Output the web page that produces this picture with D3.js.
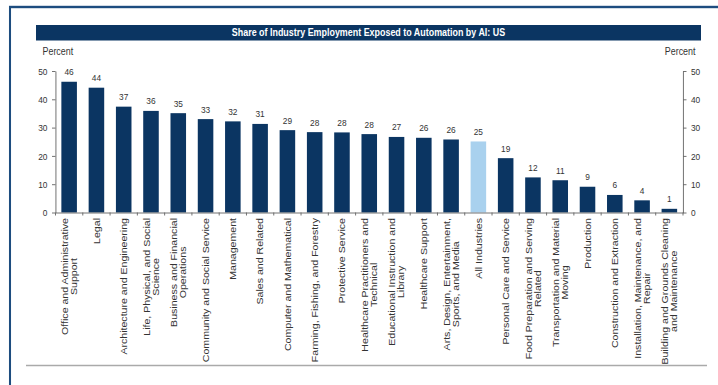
<!DOCTYPE html>
<html>
<head>
<meta charset="utf-8">
<script src="https://d3js.org/d3.v7.min.js"></script>
<style>
  html, body { margin: 0; padding: 0; background: #fff; overflow: hidden; }
  svg { display: block; font-family: "Liberation Sans", Arial, sans-serif; }
</style>
</head>
<body>
<div id="chart"></div>
<script>
const title = "Share of Industry Employment Exposed to Automation by AI: US";
const unitLabel = "Percent";

const categories = [
  "Office and Administrative\nSupport",
  "Legal",
  "Architecture and Engineering",
  "Life, Physical, and Social\nScience",
  "Business and Financial\nOperations",
  "Community and Social Service",
  "Management",
  "Sales and Related",
  "Computer and Mathematical",
  "Farming, Fishing, and Forestry",
  "Protective Service",
  "Healthcare Practitioners and\nTechnical",
  "Educational Instruction and\nLibrary",
  "Healthcare Support",
  "Arts, Design, Entertainment,\nSports, and Media",
  "All Industries",
  "Personal Care and Service",
  "Food Preparation and Serving\nRelated",
  "Transportation and Material\nMoving",
  "Production",
  "Construction and Extraction",
  "Installation, Maintenance, and\nRepair",
  "Building and Grounds Cleaning\nand Maintenance"
];

const shares = [46.2, 44.1, 37.4, 35.9, 35.1, 33.0, 32.2, 31.3, 29.1, 28.4, 28.3, 27.7,
  26.7, 26.4, 25.8, 25.1, 19.2, 12.4, 11.4, 9.1, 6.2, 4.3, 1.3];

const highlighted = ["All Industries"];
const yTicks = [0, 10, 20, 30, 40, 50];

// the source picture is squeezed sideways, so draw wide and squash with the viewBox
const K = 0.85;
const sx = v => v / K;

const width = 718, height = 385;
const navy = "#0b3562", lightBlue = "#a9d1ee", ink = "#333";

const svg = d3.select("#chart")
  .append("svg")
  .attr("width", width)
  .attr("height", height)
  .attr("viewBox", "0 0 " + sx(width) + " " + height)
  .attr("preserveAspectRatio", "none");

svg.append("rect")
  .attr("width", sx(width)).attr("height", height)
  .attr("fill", "#fff");

// outer frame, runs off the right and bottom edges
svg.append("rect")
  .attr("x", sx(10)).attr("y", 7)
  .attr("width", sx(width + 20)).attr("height", height + 20)
  .attr("fill", "none")
  .attr("stroke", "#1d4d7f")
  .attr("stroke-width", 2.4);

// title bar
svg.append("rect")
  .attr("x", sx(36)).attr("y", 25)
  .attr("width", sx(701 - 36)).attr("height", 15.5)
  .attr("fill", navy);

svg.append("text")
  .attr("x", sx(368.5)).attr("y", 36.2)
  .attr("text-anchor", "middle")
  .attr("fill", "#fff")
  .attr("font-weight", "bold")
  .attr("font-size", 10.5)
  .text(title);

svg.append("text")
  .attr("x", sx(42.5)).attr("y", 55.5)
  .attr("font-size", 10.5).attr("fill", ink)
  .text(unitLabel);

svg.append("text")
  .attr("x", sx(695.5)).attr("y", 55.5)
  .attr("text-anchor", "end")
  .attr("font-size", 10.5).attr("fill", ink)
  .text(unitLabel);

// scales
const x = d3.scaleBand()
  .domain(categories)
  .range([sx(55.5), sx(683)])
  .paddingInner(0.43)
  .paddingOuter(0.215);

const y = d3.scaleLinear()
  .domain([0, 50])
  .range([212.5, 71]);

const fmt = d3.format(".0f");

// bars
svg.append("g")
  .selectAll("rect")
  .data(categories)
  .join("rect")
  .attr("x", d => x(d))
  .attr("width", x.bandwidth())
  .attr("y", (d, i) => y(shares[i]))
  .attr("height", (d, i) => y(0) - y(shares[i]))
  .attr("fill", d => highlighted.includes(d) ? lightBlue : navy);

// value labels
svg.append("g")
  .selectAll("text")
  .data(categories)
  .join("text")
  .attr("x", d => x(d) + x.bandwidth() / 2)
  .attr("y", (d, i) => y(shares[i]) - 6.5)
  .attr("text-anchor", "middle")
  .attr("font-size", 9.8)
  .attr("fill", ink)
  .text((d, i) => fmt(shares[i]));

// y axes, left and right
function styleAxis(g) {
  g.select(".domain").attr("stroke", "#666");
  g.selectAll(".tick line").attr("stroke", "#666");
  g.selectAll(".tick text").attr("fill", ink).attr("font-size", 9.8)
    .attr("font-family", "Liberation Sans, Arial, sans-serif");
}

svg.append("g")
  .attr("class", "y axis")
  .attr("transform", "translate(" + x.range()[0] + ",0)")
  .call(d3.axisLeft(y).tickValues(yTicks).tickSize(sx(3.5)).tickSizeOuter(0).tickPadding(sx(4.5)))
  .call(styleAxis);

svg.append("g")
  .attr("class", "y axis right")
  .attr("transform", "translate(" + x.range()[1] + ",0)")
  .call(d3.axisRight(y).tickValues(yTicks).tickSize(sx(3.5)).tickSizeOuter(0).tickPadding(sx(4.5)))
  .call(styleAxis);

// x axis: baseline with small ticks between the bars
const xAxis = svg.append("g")
  .attr("class", "x axis")
  .attr("transform", "translate(0," + y(0) + ")")
  .call(d3.axisBottom(x).tickSize(0).tickFormat(""))
  .call(styleAxis);

const half = x.step() * x.paddingInner() / 2;
const bounds = categories.map(d => x(d) - half).concat([x.range()[1]]);
xAxis.selectAll(".sep")
  .data(bounds)
  .join("line")
  .attr("class", "sep")
  .attr("x1", d => d).attr("x2", d => d)
  .attr("y1", 0).attr("y2", 3)
  .attr("stroke", "#666");

// category labels, rotated; lines centred on each other, block hung from the axis
const lineHeight = sx(9);
const labelTop = 218;
svg.append("g")
  .selectAll("text")
  .data(categories)
  .join("text")
  .attr("transform", d => "translate(" + (x(d) + x.bandwidth() / 2) + "," + labelTop + ") rotate(-90)")
  .attr("text-anchor", "middle")
  .attr("font-size", 10.6)
  .attr("fill", ink)
  .each(function (d) {
    const lines = d.split("\n");
    const t = d3.select(this);
    const spans = lines.map((line, i) => t.append("tspan")
      .attr("y", (i - (lines.length - 1) / 2) * lineHeight)
      .attr("dy", "0.35em")
      .text(line));
    const longest = d3.max(spans, s => s.node().getComputedTextLength());
    spans.forEach(s => s.attr("x", -longest / 2));
  });

// footer rule
svg.append("line")
  .attr("x1", sx(26)).attr("x2", sx(707))
  .attr("y1", 365.5).attr("y2", 365.5)
  .attr("stroke", "#aaa")
  .attr("stroke-width", 1.5);
</script>
</body>
</html>
